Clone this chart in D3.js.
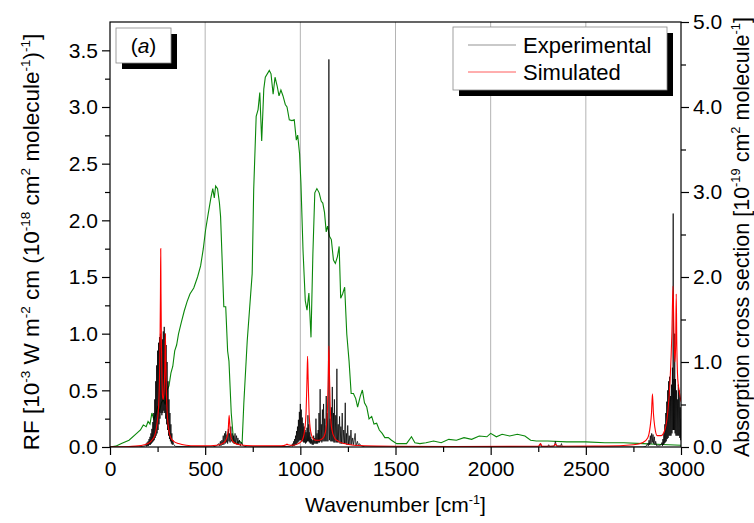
<!DOCTYPE html>
<html><head><meta charset="utf-8">
<script src="https://cdn.jsdelivr.net/npm/d3@7"></script>
<style>
body{margin:0;background:#fff}
text{font-family:"Liberation Sans",Arial,sans-serif;fill:#000}
</style></head>
<body><svg id="chart" width="754" height="523"></svg>
<script>
// ---------- data ----------
const xTickValues = [0, 500, 1000, 1500, 2000, 2500, 3000];
const xMinorTicks = [250, 750, 1250, 1750, 2250, 2750];
const leftTickValues = [0, 0.5, 1.0, 1.5, 2.0, 2.5, 3.0, 3.5];
const leftMinorTicks = [0.25, 0.75, 1.25, 1.75, 2.25, 2.75, 3.25];
const rightTickValues = [0, 1, 2, 3, 4, 5];
const rightMinorTicks = [0.5, 1.5, 2.5, 3.5, 4.5];
const gridValues = [500, 1000, 1500, 2000, 2500];

// absorption cross section (10^-19 cm^2 molecule^-1), right axis
const absWavenumber = [0,30,60,100,140,160,175,190,200,210,220,230,240,250,260,270,280,290,300,310,320,330,340,350,360,375,390,405,420,440,460,476,490,502,515,530,540,548,555,565,575,581,598,608,618,625,637,650,665,680,694,703,721,747,755,768,778,787,797,808,816,837,846,857,867,878,888,898,909,921,930,942,956,968,979,986,996,1003,1014,1026,1035,1045,1056,1066,1076,1087,1099,1110,1118,1127,1136,1143,1153,1163,1174,1184,1195,1204,1212,1222,1233,1244,1256,1267,1279,1291,1301,1314,1326,1337,1349,1361,1375,1387,1401,1415,1430,1444,1462,1479,1506,1558,1584,1602,1628,1660,1700,1740,1780,1820,1860,1900,1940,1980,2000,2030,2060,2100,2140,2180,2210,2240,2300,2400,2500,2600,2700,2800,2900,3000];
const absCross = [0.0,0.01,0.04,0.08,0.16,0.20,0.26,0.24,0.30,0.27,0.40,0.33,0.38,0.47,0.42,0.52,0.56,0.50,0.67,0.72,0.87,0.95,1.13,1.20,1.33,1.47,1.60,1.71,1.80,1.87,2.00,2.13,2.33,2.55,2.73,2.93,3.04,2.93,3.07,3.04,2.87,2.71,1.65,1.65,1.13,1.01,0.40,0.05,0.04,0.07,0.04,0.51,1.25,2.04,3.03,3.89,3.97,4.17,3.60,4.21,4.35,4.43,4.39,4.15,4.35,4.25,4.13,4.20,4.13,4.03,4.00,3.85,3.84,3.85,3.61,3.67,3.45,3.11,2.32,1.72,1.61,1.81,1.29,2.28,2.99,3.04,2.99,2.89,2.87,2.76,2.53,2.60,2.48,2.44,2.20,2.16,2.24,2.36,1.75,1.80,1.88,1.33,1.01,0.63,0.63,0.57,0.47,0.59,0.67,0.52,0.47,0.33,0.36,0.27,0.28,0.20,0.16,0.11,0.11,0.08,0.04,0.04,0.12,0.05,0.04,0.05,0.07,0.05,0.09,0.08,0.11,0.09,0.13,0.12,0.16,0.12,0.15,0.13,0.15,0.13,0.08,0.07,0.07,0.06,0.06,0.05,0.05,0.04,0.03,0.02];

// experimental RF (left axis)
const expWavenumber = [0,150,185,190,192.5,195,197.5,200,202.5,205,207.5,210,212.5,215,217.5,220,222.5,225,227.5,230,232.5,235,237.5,240,242.5,245,247.5,250,252.5,255,257.5,260,262.5,265,267.5,270,272.5,275,277.5,280,282.5,285,287.5,290,292.5,295,297.5,300,302.5,305,307.5,310,312.5,315,317.5,320,322.5,325,327.5,330,335,345,
540,560,570,575,580,583,588,591,595,598,602,605,608,611,615,618,622,625,628,631,635,638,642,645,650,653,657,660,665,668,672,676,680,685,690,700,720,
945,950,955,957.5,960,962.5,965,967.5,970,972.5,975,977.5,980,982.5,985,987.5,990,992.5,995,997.5,1000,1002.5,1005,1007.5,1010,1012.5,1015,1017.5,1020,1022.5,1025,1027.5,1030,1032.5,1035,1037.5,1040,1042.5,1045,1047.5,1050,1052.5,1055,1057.5,1060,1062.5,
1066,1068,1070,1073,1076,1079,1082,1085,1088,1091,1094,1096,1098,1101,1104,1107,1110,1113,1116,1119,1122,1125,1128,1131,1134,1136,1139,1142,1145,1147,1150,1153,1157,1160,1163,1165.5,1168,1171,1174,1176.5,1179,1182,1186,1189,1192,1195,1199,1202,1206,1209,1213,1216,1220,1224,1228,1232,1236,1239,1242,1245,1249,1253,1257,1261,1266,1270,1275,1280,1288,1292,1300,1305,1310,1320,1340,
2250,2258,2262,2266,2300,2305,2310,2335,2340,2345,2368,2372,2376,2400,2800,
2815,2825,2828,2832,2835,2839,2842,2846,2849,2853,2856,2860,2863,2867,2872,2885,2895,2900,2902.5,2905,2907.5,2910,2912.5,2915,2917.5,2920,2922.5,2925,2927.5,2930,2932.5,2935,2937.5,2940,2942.5,2945,2947.5,2950,2952.5,2955,2957,2959,2961,2963,2965,2967,2969,2971,2973.5,2976,2978.5,2981,2983.5,2986,2988.5,2991,2993.5,2996,2998,3000];
const expRF = [0,0,0.01,0.03,0.005,0.04,0.01,0.05,0.01,0.07,0.02,0.09,0.02,0.12,0.03,0.16,0.04,0.22,0.05,0.30,0.06,0.42,0.08,0.58,0.10,0.72,0.12,0.85,0.15,0.92,0.20,0.97,0.25,1.00,0.30,0.88,0.28,0.95,0.30,1.02,0.32,1.06,0.30,1.00,0.25,0.90,0.20,0.75,0.15,0.58,0.10,0.42,0.07,0.30,0.05,0.20,0.03,0.12,0.02,0.06,0.02,0.005,
0,0.01,0.03,0.01,0.05,0.01,0.06,0.02,0.10,0.02,0.12,0.03,0.14,0.04,0.11,0.03,0.16,0.05,0.12,0.04,0.18,0.05,0.12,0.04,0.10,0.03,0.12,0.03,0.10,0.02,0.08,0.02,0.06,0.01,0.04,0.01,0,
0.005,0.01,0.02,0.005,0.03,0.01,0.05,0.01,0.07,0.02,0.10,0.02,0.14,0.03,0.18,0.04,0.24,0.05,0.31,0.06,0.38,0.06,0.33,0.05,0.26,0.05,0.21,0.04,0.18,0.04,0.15,0.03,0.13,0.04,0.17,0.05,0.28,0.05,0.20,0.04,0.13,0.03,0.09,0.03,0.07,0.02,
0.06,0.02,0.10,0.03,0.08,0.03,0.25,0.03,0.12,0.03,0.15,0.04,0.30,0.04,0.51,0.05,0.20,0.04,0.33,0.05,0.38,0.05,0.25,0.05,0.20,0.45,0.05,0.30,0.05,0.15,3.42,0.06,0.25,0.05,0.35,0.05,0.53,0.05,0.30,0.04,0.42,0.04,0.28,0.04,0.69,0.04,0.20,0.04,0.27,0.03,0.18,0.03,0.30,0.03,0.15,0.03,0.39,0.03,0.12,0.02,0.19,0.02,0.10,0.02,0.15,0.02,0.08,0.02,0.12,0.01,0.05,0.01,0.03,0.01,0,
0,0.01,0.03,0.005,0.005,0.02,0.005,0.01,0.05,0.01,0.01,0.03,0.005,0,0,
0.005,0.03,0.01,0.06,0.02,0.10,0.03,0.12,0.04,0.11,0.03,0.09,0.02,0.05,0.01,0.01,0.02,0.04,0.01,0.07,0.02,0.12,0.03,0.20,0.04,0.30,0.05,0.40,0.07,0.50,0.08,0.58,0.10,0.62,0.10,0.45,0.10,0.55,0.12,0.70,0.15,2.06,0.15,0.60,0.15,1.00,0.12,0.60,0.10,0.50,0.10,0.42,0.10,0.55,0.10,0.50,0.08,0.35,0.06,0.25];

// simulated RF (left axis)
const simWavenumber = [0,100,150,180,200,215,225,235,242,248,253,257,260,263,265,266.5,268,270,273,276,280,284,288,291,293,296,300,305,312,320,335,360,400,450,500,560,590,605,615,621,626,631,637,650,680,750,900,925,930,935,960,990,1010,1022,1030,1035,1038,1041,1046,1054,1065,1080,1100,1120,1135,1143,1147,1150,1153,1157,1165,1180,1200,1230,1280,1400,1800,2250,2262,2270,2330,2340,2350,2600,2750,2800,2825,2838,2845,2850,2855,2862,2875,2895,2915,2930,2943,2952,2958,2963,2968,2972,2975,2978,2983,2990,2995,3000];
const simRF = [0,0.005,0.01,0.02,0.03,0.05,0.07,0.10,0.15,0.22,0.30,0.42,0.60,0.95,1.35,1.75,1.35,0.95,0.60,0.45,0.42,0.50,0.70,1.00,0.75,0.50,0.32,0.20,0.12,0.08,0.05,0.03,0.015,0.01,0.01,0.015,0.03,0.05,0.09,0.15,0.28,0.15,0.08,0.04,0.02,0.01,0.01,0.02,0.025,0.02,0.015,0.03,0.06,0.14,0.30,0.60,0.80,0.60,0.30,0.14,0.08,0.06,0.06,0.08,0.16,0.35,0.65,0.89,0.65,0.35,0.16,0.08,0.05,0.03,0.015,0.008,0.005,0.006,0.03,0.006,0.006,0.025,0.006,0.008,0.02,0.04,0.08,0.18,0.30,0.47,0.30,0.18,0.10,0.10,0.15,0.30,0.60,1.00,1.42,1.00,0.75,0.90,1.35,0.90,0.60,0.50,0.45,0.40];

// ---------- layout ----------
const svg = d3.select("#chart");
const L = 110, R = 681, T = 22, B = 447;
const x = d3.scaleLinear().domain([0, 3000]).range([L, R]);
const yL = d3.scaleLinear().domain([0, 3.75]).range([B, T]);
const yR = d3.scaleLinear().domain([0, 5]).range([B, T]);
const FS = 21;

svg.append("defs").append("clipPath").attr("id", "clip")
  .append("rect").attr("x", L).attr("y", T).attr("width", R - L).attr("height", B - T);

// grid
svg.append("g").selectAll("line").data(gridValues).join("line")
  .attr("x1", d => x(d)).attr("x2", d => x(d)).attr("y1", T).attr("y2", B)
  .attr("stroke", "#b4b4b4").attr("stroke-width", 1);

const plot = svg.append("g").attr("clip-path", "url(#clip)");

// absorption (green)
const absPts = absWavenumber.map((w, i) => [w, absCross[i]]);
plot.append("path").datum(absPts)
  .attr("d", d3.line().x(d => x(d[0])).y(d => yR(d[1])))
  .attr("fill", "none").attr("stroke", "#0a870a").attr("stroke-width", 1.1);

// experimental
const expPts = expWavenumber.map((w, i) => [w, expRF[i]]);
plot.append("path").datum(expPts)
  .attr("d", d3.line().x(d => x(d[0])).y(d => yL(d[1])))
  .attr("fill", "none").attr("stroke", "#000").attr("stroke-width", 0.75).attr("stroke-linejoin", "miter");

// simulated
const simPts = simWavenumber.map((w, i) => [w, simRF[i]]);
plot.append("path").datum(simPts)
  .attr("d", d3.line().curve(d3.curveMonotoneX).x(d => x(d[0])).y(d => yL(d[1])))
  .attr("fill", "none").attr("stroke", "#ff0000").attr("stroke-width", 1.1);

// frame
svg.append("rect").attr("x", L).attr("y", T).attr("width", R - L).attr("height", B - T)
  .attr("fill", "none").attr("stroke", "#000").attr("stroke-width", 1.2);

// axes
function styleAxis(g) {
  g.select(".domain").remove();
  g.selectAll(".tick line").attr("stroke", "#000").attr("stroke-width", 1.2);
  g.selectAll(".tick text").attr("font-size", FS).attr("font-family", '"Liberation Sans",Arial,sans-serif');
}
const xAxis = svg.append("g").attr("transform", `translate(0,${B})`)
  .call(d3.axisBottom(x).tickValues(xTickValues).tickFormat(d3.format("d")).tickSize(8).tickPadding(6));
styleAxis(xAxis);
svg.append("g").attr("transform", `translate(0,${B})`)
  .call(d3.axisBottom(x).tickValues(xMinorTicks).tickFormat("").tickSize(5))
  .call(styleAxis);

const lAxis = svg.append("g").attr("transform", `translate(${L},0)`)
  .call(d3.axisLeft(yL).tickValues(leftTickValues).tickFormat(d3.format(".1f")).tickSize(8).tickPadding(4));
styleAxis(lAxis);
svg.append("g").attr("transform", `translate(${L},0)`)
  .call(d3.axisLeft(yL).tickValues(leftMinorTicks).tickFormat("").tickSize(5))
  .call(styleAxis);

const rAxis = svg.append("g").attr("transform", `translate(${R},0)`)
  .call(d3.axisRight(yR).tickValues(rightTickValues).tickFormat(d3.format(".1f")).tickSize(8).tickPadding(4));
styleAxis(rAxis);
svg.append("g").attr("transform", `translate(${R},0)`)
  .call(d3.axisRight(yR).tickValues(rightMinorTicks).tickFormat("").tickSize(5))
  .call(styleAxis);

// titles with superscripts
function richText(parent, parts, attrs, fs) {
  const t = parent.append("text");
  Object.entries(attrs).forEach(([k, v]) => t.attr(k, v));
  t.attr("font-size", fs);
  let prevSup = false;
  parts.forEach(p => {
    const sup = p[1] === 1;
    const ts = t.append("tspan").text(p[0]);
    if (sup && !prevSup) ts.attr("dy", -0.4 * fs).attr("font-size", fs * 0.6);
    else if (sup) ts.attr("font-size", fs * 0.6);
    else if (!sup && prevSup) ts.attr("dy", 0.4 * fs);
    prevSup = sup;
  });
  return t;
}

richText(svg, [["Wavenumber [cm", 0], ["-1", 1], ["]", 0]],
  { x: (L + R) / 2, y: 512, "text-anchor": "middle" }, 21);

richText(svg, [["RF [10", 0], ["-3", 1], [" W m", 0], ["-2", 1], [" cm (10", 0], ["-18", 1], [" cm", 0], ["2", 1], [" molecule", 0], ["-1", 1], [")", 0], ["-1", 1], ["]", 0]],
  { transform: `translate(39,242) rotate(-90)`, "text-anchor": "middle" }, 22.5);

richText(svg, [["Absorption cross section [10", 0], ["-19", 1], [" cm", 0], ["2", 1], [" molecule", 0], ["-1", 1], ["]", 0]],
  { transform: `translate(749,237) rotate(-90)`, "text-anchor": "middle" }, 21.5);

// (a) label box
const ab = svg.append("g");
ab.append("rect").attr("x", 122).attr("y", 34).attr("width", 55).attr("height", 35).attr("fill", "#000");
ab.append("rect").attr("x", 116).attr("y", 28).attr("width", 55).attr("height", 35).attr("fill", "#fff").attr("stroke", "#888").attr("stroke-width", 0.8);
const at = ab.append("text").attr("x", 143.5).attr("y", 53).attr("text-anchor", "middle").attr("font-size", FS);
at.append("tspan").text("(");
at.append("tspan").text("a").attr("font-style", "italic");
at.append("tspan").text(")");

// legend
const lg = svg.append("g");
lg.append("rect").attr("x", 459).attr("y", 33).attr("width", 214).attr("height", 63).attr("fill", "#000");
lg.append("rect").attr("x", 453).attr("y", 27).attr("width", 214).attr("height", 63).attr("fill", "#fff").attr("stroke", "#888").attr("stroke-width", 0.8);
const legendItems = [["Experimental", "#000", 0.7, 45], ["Simulated", "#ff0000", 0.8, 72]];
legendItems.forEach(([name, col, w, yy]) => {
  lg.append("line").attr("x1", 468).attr("x2", 516).attr("y1", yy).attr("y2", yy).attr("stroke", col).attr("stroke-width", w).attr("opacity", col === "#000" ? 0.6 : 0.8);
  lg.append("text").attr("x", 523).attr("y", yy + 8).attr("font-size", 22).text(name);
});
</script></body></html>
